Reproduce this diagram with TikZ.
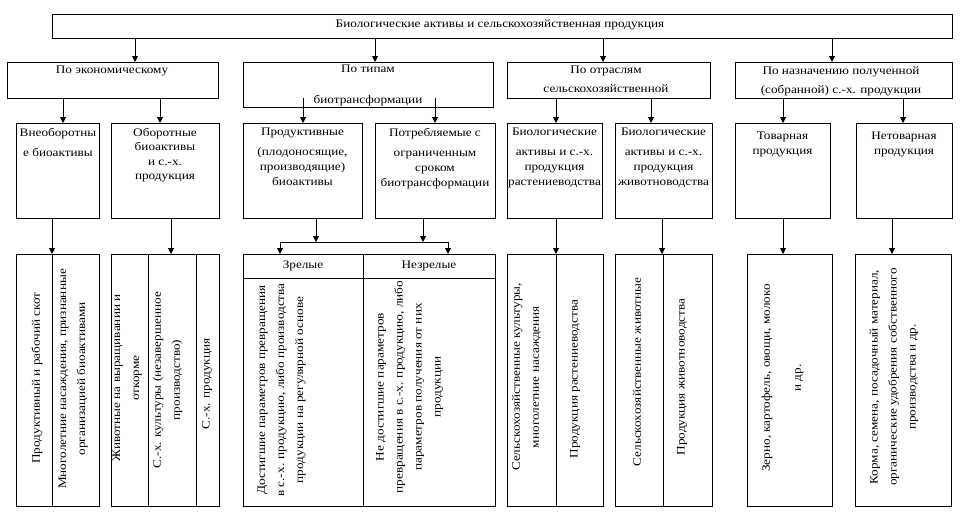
\documentclass[tikz,border=0pt]{standalone}
\usepackage{fontspec}
\setmainfont{Liberation Serif}[FakeStretch=1.15]
\usetikzlibrary{arrows.meta}
\newcommand\MkBox[5]{\node[box, minimum width={(#4-#2)*1pt}, minimum height={(#5-#3)*1pt}] (#1) at (#2,#3) {};}
\begin{document}
\begin{tikzpicture}[x=1pt,y=-1pt,
  box/.style={draw, line width=1pt, anchor=north west, inner sep=0pt},
  txt/.style={font=\fontsize{11.5}{15}\selectfont, align=center, inner sep=0pt},
  rtxt/.style={font=\fontsize{11.5}{19}\selectfont, align=center, inner sep=0pt, rotate=90},
  arr/.style={line width=1pt, -{Triangle[length=6pt,width=6pt]}},
  ln/.style={line width=1pt}]
\useasboundingbox (0,0) rectangle (963,512);
\fill[white] (0,0) rectangle (963,512);
% top
\MkBox{top}{52}{14}{952}{38}
\node[txt] (ttop) at (500,25) {Биологические активы и сельскохозяйственная продукция};
% row 2
\MkBox{A}{7}{62}{218}{98}
\MkBox{B}{243}{62}{493}{107}
\MkBox{C}{507}{62}{710}{98}
\MkBox{D}{735}{62}{952}{98}
\node[txt, anchor=north] (tA) at (112,66) {По экономическому};
\node[txt, anchor=north] (tB1) at (368,65) {По типам};
\node[txt, anchor=north] (tB2) at (368,95) {биотрансформации};
\node[txt, anchor=north] (tC) at (606,66) {По отраслям\\[4pt]сельскохозяйственной};
\node[txt, anchor=north] (tD) at (841,66) {По назначению полученной\\[4pt](собранной) с.-х. продукции};
\draw[arr] (top.south -| 135,0) -- (A.north -| 135,0);
\draw[arr] (top.south -| 375,0) -- (B.north -| 375,0);
\draw[arr] (top.south -| 603,0) -- (C.north -| 603,0);
\draw[arr] (top.south -| 832,0) -- (D.north -| 832,0);
% row 3
\MkBox{b1}{16}{123}{99}{218}
\MkBox{b2}{111}{123}{219}{218}
\MkBox{b3}{243}{123}{362}{218}
\MkBox{b4}{375}{123}{495}{218}
\MkBox{b5}{507}{123}{602}{218}
\MkBox{b6}{615}{123}{712}{218}
\MkBox{b7}{735}{123}{830}{218}
\MkBox{b8}{856}{123}{952}{218}
\node[txt, anchor=north] (t1) at (58,128) {Внеоборотны\\[5pt]е биоактивы};
\node[txt, anchor=north, font=\fontsize{11.5}{14.5}\selectfont] (t2) at (165,128) {Оборотные\\биоактивы\\и с.-х.\\продукция};
\node[txt, anchor=north] (t3) at (302.5,128) {Продуктивные\\[5pt](плодоносящие,\\производящие)\\биоактивы};
\node[txt, anchor=north] (t4) at (435,128) {Потребляемые с\\[5pt]ограниченным\\сроком\\биотрансформации};
\node[txt, anchor=north] (t5) at (554.5,128) {Биологические\\[5pt]активы и с.-х.\\продукция\\растениеводства};
\node[txt, anchor=north] (t6) at (663.5,128) {Биологические\\[5pt]активы и с.-х.\\продукция\\животноводства};
\node[txt, anchor=north] (t7) at (782.5,132) {Товарная\\продукция};
\node[txt, anchor=north] (t8) at (904,132) {Нетоварная\\продукция};
\coordinate (Bs) at (368,98);
\draw[arr] (A.south -| 63,0) -- (b1.north -| 63,0);
\draw[arr] (A.south -| 160,0) -- (b2.north -| 160,0);
\draw[arr] (Bs -| 303,0) -- (b3.north -| 303,0);
\draw[arr] (Bs -| 435,0) -- (b4.north -| 435,0);
\draw[arr] (C.south -| 556,0) -- (b5.north -| 556,0);
\draw[arr] (C.south -| 651,0) -- (b6.north -| 651,0);
\draw[arr] (D.south -| 783,0) -- (b7.north -| 783,0);
\draw[arr] (D.south -| 903,0) -- (b8.north -| 903,0);
% row 4
\MkBox{c1}{16}{254}{99}{506}
\MkBox{c2}{111}{254}{219}{506}
\MkBox{c3}{243}{254}{495}{506}
\MkBox{c4}{507}{254}{603}{506}
\MkBox{c5}{615}{254}{712}{506}
\MkBox{c6}{747}{254}{832}{506}
\MkBox{c7}{855}{254}{951}{506}
\draw[ln] (c1.north -| 52,0) -- (c1.south -| 52,0);
\draw[ln] (c2.north -| 148,0) -- (c2.south -| 148,0);
\draw[ln] (c2.north -| 196,0) -- (c2.south -| 196,0);
\draw[ln] (c3.west |- 0,278) -- (c3.east |- 0,278);
\draw[ln] (c3.north -| 363,0) -- (c3.south -| 363,0);
\draw[ln] (c4.north -| 556,0) -- (c4.south -| 556,0);
\draw[ln] (c5.north -| 663,0) -- (c5.south -| 663,0);
% row 3 -> row 4
\coordinate (j) at (364,242);
\draw[arr] (b1.south -| 52,0) -- (c1.north -| 52,0);
\draw[arr] (b2.south -| 171,0) -- (c2.north -| 171,0);
\draw[arr] (b3.south -| 316,0) -- (j -| 316,0);
\draw[arr] (b4.south -| 423,0) -- (j -| 423,0);
\draw[ln] (j -| 280,0) -- (j -| 448,0);
\draw[arr] (j -| 280,0) -- (c3.north -| 280,0);
\draw[arr] (j -| 448,0) -- (c3.north -| 448,0);
\draw[arr] (b5.south -| 556,0) -- (c4.north -| 556,0);
\draw[arr] (b6.south -| 662,0) -- (c5.north -| 662,0);
\draw[arr] (b7.south -| 783,0) -- (c6.north -| 783,0);
\draw[arr] (b8.south -| 892,0) -- (c7.north -| 892,0);
% row 4 texts
\node[rtxt] (r1) at (37,378) {Продуктивный и рабочий скот};
\node[rtxt] (r2) at (73,379) {Многолетние насаждения, признанные\\организацией биоактивами};
\node[rtxt] (r3) at (127,378) {Животные на выращивании и\\откорме};
\node[rtxt] (r4) at (167.5,380) {С.-х. культуры (незавершенное\\производство)};
\node[rtxt] (r5) at (207,384) {С.-х. продукция};
\node[txt] (h1) at (303,266) {Зрелые};
\node[txt] (h2) at (429,266) {Незрелые};
\node[rtxt] (r6) at (281.5,390) {Достигшие параметров превращения\\в с.-х. продукцию, либо производства\\продукции на регулярной основе};
\node[rtxt] (r7) at (409.5,387) {Не достигшие параметров\\превращения в с.-х. продукцию, либо\\параметров получения от них\\продукции};
\node[rtxt] (r8) at (526.5,377) {Сельскохозяйственные культуры,\\многолетние насаждения};
\node[rtxt] (r9) at (575,379) {Продукция растениеводства};
\node[rtxt] (r10) at (637,372) {Сельскохозяйственные животные};
\node[rtxt] (r11) at (682,377) {Продукция животноводства};
\node[rtxt] (r12) at (782.5,378) {Зерно, картофель, овощи, молоко\\[12pt]и др.};
\node[rtxt] (r13) at (894,377) {Корма, семена, посадочный материал,\\органические удобрения собственного\\производства и др.};
\end{tikzpicture}
\end{document}
